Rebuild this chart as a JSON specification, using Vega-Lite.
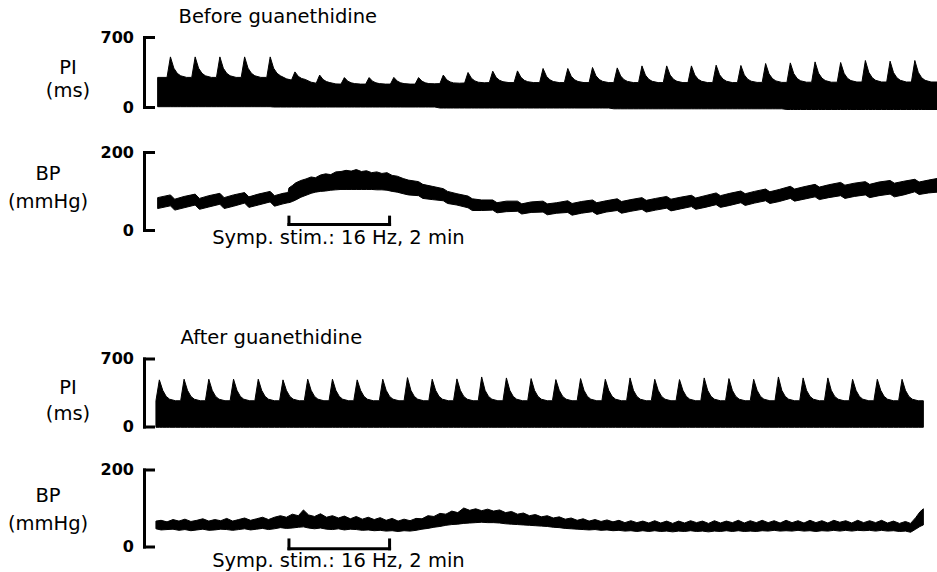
{
  "$schema": "https://vega.github.io/schema/vega-lite/v6.json",
  "background": "white",
  "padding": {"left": 7, "top": 6, "right": 0, "bottom": 0},
  "config": {
    "view": {"stroke": null},
    "font": "DejaVu Sans",
    "axis": {
      "grid": false,
      "domainColor": "black", "domainWidth": 3, "domainCap": "square",
      "tickColor": "black", "tickWidth": 3, "tickSize": -9, "tickCap": "square",
      "labelFont": "DejaVu Sans", "labelFontSize": 16, "labelFontWeight": "bold", "labelColor": "black", "labelPadding": 19.5, "labelFlush": false,
      "titleFont": "DejaVu Sans", "titleFontSize": 19.5, "titleFontWeight": "normal", "titleColor": "black",
      "titleAngle": 0, "titleAlign": "center", "titleBaseline": "middle"
    },
    "title": {"font": "DejaVu Sans", "fontSize": 19.5, "fontWeight": "normal", "color": "black", "anchor": "start", "frame": "group", "baseline": "alphabetic"}
  },
  "datasets": {
    "piBefore": [
      {"t":16,"hi":296,"lo":3},
      {"t":27,"hi":296,"lo":3},{"t":31,"hi":501,"lo":3},{"t":35,"hi":388,"lo":3},{"t":39,"hi":337,"lo":3},{"t":43,"hi":312,"lo":3},{"t":50,"hi":296,"lo":3},
      {"t":56,"hi":296,"lo":3},{"t":60,"hi":501,"lo":3},{"t":64,"hi":388,"lo":3},{"t":68,"hi":337,"lo":3},{"t":72,"hi":312,"lo":3},{"t":79,"hi":296,"lo":3},
      {"t":85,"hi":296,"lo":3},{"t":89,"hi":501,"lo":3},{"t":93,"hi":388,"lo":3},{"t":97,"hi":337,"lo":3},{"t":101,"hi":312,"lo":3},{"t":108,"hi":296,"lo":3},
      {"t":114,"hi":296,"lo":3},{"t":118,"hi":501,"lo":3},{"t":122,"hi":388,"lo":3},{"t":126,"hi":337,"lo":3},{"t":130,"hi":312,"lo":3},{"t":137,"hi":296,"lo":3},
      {"t":144,"hi":296,"lo":3},{"t":148,"hi":501,"lo":3},{"t":152,"hi":388,"lo":0},{"t":156,"hi":337,"lo":0},{"t":160,"hi":312,"lo":0},{"t":167,"hi":282,"lo":0},
      {"t":173,"hi":269,"lo":0},{"t":177,"hi":351,"lo":0},{"t":181,"hi":306,"lo":0},{"t":185,"hi":285,"lo":0},{"t":189,"hi":276,"lo":0},{"t":196,"hi":248,"lo":0},
      {"t":202,"hi":238,"lo":0},{"t":206,"hi":319,"lo":0},{"t":210,"hi":275,"lo":0},{"t":214,"hi":254,"lo":0},{"t":218,"hi":244,"lo":0},{"t":225,"hi":231,"lo":0},
      {"t":231,"hi":229,"lo":0},{"t":235,"hi":294,"lo":0},{"t":239,"hi":258,"lo":0},{"t":243,"hi":242,"lo":0},{"t":247,"hi":234,"lo":0},{"t":254,"hi":229,"lo":0},
      {"t":260,"hi":229,"lo":0},{"t":264,"hi":294,"lo":0},{"t":268,"hi":258,"lo":0},{"t":272,"hi":242,"lo":0},{"t":276,"hi":234,"lo":0},{"t":283,"hi":229,"lo":0},
      {"t":289,"hi":229,"lo":0},{"t":293,"hi":296,"lo":0},{"t":297,"hi":259,"lo":0},{"t":301,"hi":242,"lo":0},{"t":305,"hi":234,"lo":0},{"t":312,"hi":229,"lo":0},
      {"t":318,"hi":229,"lo":0},{"t":322,"hi":294,"lo":0},{"t":326,"hi":258,"lo":0},{"t":330,"hi":242,"lo":0},{"t":334,"hi":234,"lo":0},{"t":341,"hi":232,"lo":0},
      {"t":347,"hi":234,"lo":-10},{"t":351,"hi":319,"lo":-10},{"t":355,"hi":272,"lo":-10},{"t":359,"hi":251,"lo":-10},{"t":363,"hi":241,"lo":-10},{"t":370,"hi":238,"lo":-10},
      {"t":376,"hi":240,"lo":-10},{"t":380,"hi":345,"lo":-10},{"t":384,"hi":287,"lo":-10},{"t":388,"hi":261,"lo":-10},{"t":392,"hi":248,"lo":-10},{"t":399,"hi":242,"lo":-10},
      {"t":405,"hi":244,"lo":-10},{"t":409,"hi":358,"lo":-10},{"t":413,"hi":295,"lo":-10},{"t":417,"hi":267,"lo":-10},{"t":421,"hi":253,"lo":-10},{"t":428,"hi":244,"lo":-10},
      {"t":434,"hi":244,"lo":-10},{"t":438,"hi":361,"lo":-10},{"t":442,"hi":297,"lo":-10},{"t":446,"hi":267,"lo":-10},{"t":450,"hi":253,"lo":-10},{"t":457,"hi":244,"lo":-10},
      {"t":464,"hi":244,"lo":-10},{"t":468,"hi":385,"lo":-10},{"t":472,"hi":307,"lo":-10},{"t":476,"hi":272,"lo":-10},{"t":480,"hi":255,"lo":-10},{"t":487,"hi":244,"lo":-10},
      {"t":493,"hi":244,"lo":-10},{"t":497,"hi":385,"lo":-10},{"t":501,"hi":307,"lo":-10},{"t":505,"hi":272,"lo":-10},{"t":509,"hi":255,"lo":-10},{"t":516,"hi":244,"lo":-10},
      {"t":522,"hi":244,"lo":-10},{"t":526,"hi":395,"lo":-10},{"t":530,"hi":312,"lo":-10},{"t":534,"hi":274,"lo":-10},{"t":538,"hi":256,"lo":-10},{"t":545,"hi":244,"lo":-10},
      {"t":551,"hi":244,"lo":-18},{"t":555,"hi":391,"lo":-18},{"t":559,"hi":310,"lo":-18},{"t":563,"hi":273,"lo":-18},{"t":567,"hi":256,"lo":-18},{"t":574,"hi":244,"lo":-18},
      {"t":580,"hi":244,"lo":-18},{"t":584,"hi":411,"lo":-18},{"t":588,"hi":319,"lo":-18},{"t":592,"hi":277,"lo":-18},{"t":596,"hi":257,"lo":-18},{"t":603,"hi":244,"lo":-18},
      {"t":609,"hi":244,"lo":-18},{"t":613,"hi":411,"lo":-18},{"t":617,"hi":319,"lo":-18},{"t":621,"hi":277,"lo":-18},{"t":625,"hi":257,"lo":-18},{"t":632,"hi":244,"lo":-18},
      {"t":638,"hi":244,"lo":-18},{"t":642,"hi":411,"lo":-18},{"t":646,"hi":319,"lo":-18},{"t":650,"hi":277,"lo":-18},{"t":654,"hi":257,"lo":-18},{"t":661,"hi":244,"lo":-18},
      {"t":667,"hi":244,"lo":-18},{"t":671,"hi":418,"lo":-18},{"t":675,"hi":322,"lo":-18},{"t":679,"hi":279,"lo":-18},{"t":683,"hi":258,"lo":-18},{"t":690,"hi":244,"lo":-18},
      {"t":696,"hi":244,"lo":-18},{"t":700,"hi":415,"lo":-18},{"t":704,"hi":321,"lo":-18},{"t":708,"hi":278,"lo":-18},{"t":712,"hi":258,"lo":-18},{"t":719,"hi":246,"lo":-18},
      {"t":725,"hi":246,"lo":-18},{"t":729,"hi":435,"lo":-18},{"t":733,"hi":331,"lo":-18},{"t":737,"hi":284,"lo":-18},{"t":741,"hi":261,"lo":-18},{"t":748,"hi":246,"lo":-18},
      {"t":754,"hi":246,"lo":-25},{"t":758,"hi":441,"lo":-25},{"t":762,"hi":334,"lo":-25},{"t":766,"hi":285,"lo":-25},{"t":770,"hi":262,"lo":-25},{"t":777,"hi":248,"lo":-25},
      {"t":783,"hi":248,"lo":-25},{"t":787,"hi":451,"lo":-25},{"t":791,"hi":339,"lo":-25},{"t":795,"hi":289,"lo":-25},{"t":799,"hi":264,"lo":-25},{"t":806,"hi":248,"lo":-25},
      {"t":813,"hi":248,"lo":-25},{"t":817,"hi":445,"lo":-25},{"t":821,"hi":337,"lo":-25},{"t":825,"hi":287,"lo":-25},{"t":829,"hi":264,"lo":-25},{"t":836,"hi":250,"lo":-25},
      {"t":842,"hi":250,"lo":-25},{"t":846,"hi":465,"lo":-25},{"t":850,"hi":347,"lo":-25},{"t":854,"hi":293,"lo":-25},{"t":858,"hi":267,"lo":-25},{"t":865,"hi":250,"lo":-25},
      {"t":871,"hi":250,"lo":-25},{"t":875,"hi":458,"lo":-25},{"t":879,"hi":344,"lo":-25},{"t":883,"hi":292,"lo":-25},{"t":887,"hi":267,"lo":-25},{"t":894,"hi":250,"lo":-25},
      {"t":900,"hi":250,"lo":-25},{"t":904,"hi":465,"lo":-25},{"t":908,"hi":347,"lo":-25},{"t":912,"hi":293,"lo":-25},{"t":916,"hi":267,"lo":-25},{"t":923,"hi":250,"lo":-25},
      {"t":930,"hi":250,"lo":-25}
    ],
    "bpBefore": [
      {"t":16,"lo":55,"hi":83},{"t":31,"lo":62,"hi":90},{"t":36,"lo":51,"hi":79},{"t":47,"lo":57,"hi":86},{"t":60,"lo":64,"hi":92},{"t":65,"lo":53,"hi":81},{"t":76,"lo":59,"hi":88},
      {"t":89,"lo":66,"hi":94},{"t":94,"lo":55,"hi":83},{"t":105,"lo":61,"hi":90},{"t":118,"lo":69,"hi":96},{"t":123,"lo":58,"hi":85},{"t":134,"lo":64,"hi":92},
      {"t":148,"lo":72,"hi":99},{"t":153,"lo":61,"hi":88},{"t":163,"lo":67,"hi":94},{"t":169,"lo":70,"hi":96},{"t":170,"lo":70,"hi":108},{"t":174,"lo":73,"hi":114},
      {"t":178,"lo":77,"hi":121},{"t":184,"lo":84,"hi":127},{"t":190,"lo":89,"hi":131},{"t":196,"lo":94,"hi":136},{"t":201,"lo":97,"hi":134},{"t":207,"lo":99,"hi":141},
      {"t":213,"lo":100,"hi":144},{"t":219,"lo":102,"hi":142},{"t":225,"lo":103,"hi":149},{"t":231,"lo":104,"hi":150},{"t":237,"lo":104,"hi":153},{"t":243,"lo":104,"hi":151},
      {"t":249,"lo":104,"hi":155},{"t":255,"lo":104,"hi":150},{"t":261,"lo":104,"hi":152},{"t":267,"lo":104,"hi":147},{"t":273,"lo":103,"hi":149},{"t":279,"lo":103,"hi":145},
      {"t":285,"lo":102,"hi":147},{"t":291,"lo":99,"hi":140},{"t":297,"lo":97,"hi":138},{"t":304,"lo":93,"hi":132},{"t":310,"lo":90,"hi":128},{"t":322,"lo":88,"hi":124},
      {"t":327,"lo":81,"hi":117},{"t":338,"lo":78,"hi":112},{"t":351,"lo":75,"hi":106},{"t":356,"lo":68,"hi":99},{"t":367,"lo":64,"hi":93},{"t":380,"lo":57,"hi":87},
      {"t":385,"lo":50,"hi":80},{"t":396,"lo":50,"hi":77},{"t":409,"lo":51,"hi":77},{"t":414,"lo":44,"hi":70},{"t":425,"lo":47,"hi":74},{"t":438,"lo":48,"hi":74},
      {"t":443,"lo":41,"hi":67},{"t":454,"lo":45,"hi":72},{"t":468,"lo":46,"hi":74},{"t":473,"lo":39,"hi":67},{"t":484,"lo":43,"hi":70},{"t":497,"lo":45,"hi":75},
      {"t":502,"lo":38,"hi":68},{"t":513,"lo":43,"hi":73},{"t":526,"lo":47,"hi":77},{"t":531,"lo":40,"hi":70},{"t":542,"lo":46,"hi":75},{"t":555,"lo":50,"hi":80},
      {"t":560,"lo":43,"hi":73},{"t":571,"lo":48,"hi":78},{"t":584,"lo":53,"hi":83},{"t":589,"lo":46,"hi":76},{"t":600,"lo":51,"hi":81},{"t":613,"lo":56,"hi":86},
      {"t":618,"lo":49,"hi":79},{"t":629,"lo":54,"hi":84},{"t":642,"lo":60,"hi":89},{"t":647,"lo":53,"hi":82},{"t":658,"lo":58,"hi":88},{"t":671,"lo":65,"hi":95},
      {"t":676,"lo":58,"hi":88},{"t":687,"lo":63,"hi":94},{"t":700,"lo":70,"hi":100},{"t":705,"lo":63,"hi":93},{"t":716,"lo":69,"hi":99},{"t":729,"lo":75,"hi":105},
      {"t":734,"lo":68,"hi":98},{"t":745,"lo":73,"hi":104},{"t":758,"lo":81,"hi":112},{"t":763,"lo":74,"hi":105},{"t":774,"lo":79,"hi":111},{"t":787,"lo":85,"hi":117},
      {"t":792,"lo":78,"hi":110},{"t":803,"lo":83,"hi":116},{"t":817,"lo":88,"hi":122},{"t":822,"lo":81,"hi":115},{"t":833,"lo":86,"hi":120},{"t":846,"lo":90,"hi":124},
      {"t":851,"lo":83,"hi":117},{"t":862,"lo":88,"hi":123},{"t":875,"lo":92,"hi":127},{"t":880,"lo":85,"hi":120},{"t":891,"lo":90,"hi":125},{"t":904,"lo":98,"hi":130},
      {"t":909,"lo":91,"hi":123},{"t":920,"lo":95,"hi":128},{"t":930,"lo":97,"hi":132}
    ],
    "piAfter": [
      {"t":14,"hi":265,"lo":-8},{"t":18,"hi":480,"lo":-8},{"t":22,"hi":372,"lo":-8},{"t":26,"hi":310,"lo":-8},{"t":30,"hi":281,"lo":-8},{"t":37,"hi":265,"lo":-8},
      {"t":43,"hi":265,"lo":-8},{"t":47,"hi":487,"lo":-8},{"t":51,"hi":372,"lo":-8},{"t":55,"hi":310,"lo":-8},{"t":59,"hi":281,"lo":-8},{"t":66,"hi":265,"lo":-8},
      {"t":72,"hi":265,"lo":-8},{"t":76,"hi":487,"lo":-8},{"t":80,"hi":372,"lo":-8},{"t":84,"hi":310,"lo":-8},{"t":88,"hi":281,"lo":-8},{"t":95,"hi":265,"lo":-8},
      {"t":101,"hi":265,"lo":-8},{"t":105,"hi":487,"lo":-8},{"t":109,"hi":372,"lo":-8},{"t":113,"hi":310,"lo":-8},{"t":117,"hi":281,"lo":-8},{"t":124,"hi":265,"lo":-8},
      {"t":130,"hi":265,"lo":-8},{"t":134,"hi":487,"lo":-8},{"t":138,"hi":372,"lo":-8},{"t":142,"hi":310,"lo":-8},{"t":146,"hi":281,"lo":-8},{"t":153,"hi":265,"lo":-8},
      {"t":159,"hi":265,"lo":-8},{"t":163,"hi":480,"lo":-8},{"t":167,"hi":372,"lo":-8},{"t":171,"hi":310,"lo":-8},{"t":175,"hi":281,"lo":-8},{"t":182,"hi":265,"lo":-8},
      {"t":188,"hi":265,"lo":-8},{"t":192,"hi":487,"lo":-8},{"t":196,"hi":372,"lo":-8},{"t":200,"hi":310,"lo":-8},{"t":204,"hi":281,"lo":-8},{"t":211,"hi":265,"lo":-8},
      {"t":217,"hi":265,"lo":-8},{"t":221,"hi":487,"lo":-8},{"t":225,"hi":372,"lo":-8},{"t":229,"hi":310,"lo":-8},{"t":233,"hi":281,"lo":-8},{"t":240,"hi":265,"lo":-8},
      {"t":246,"hi":265,"lo":-8},{"t":250,"hi":480,"lo":-8},{"t":254,"hi":372,"lo":-8},{"t":258,"hi":310,"lo":-8},{"t":262,"hi":281,"lo":-8},{"t":269,"hi":265,"lo":-8},
      {"t":276,"hi":265,"lo":-8},{"t":280,"hi":487,"lo":-8},{"t":284,"hi":372,"lo":-8},{"t":288,"hi":310,"lo":-8},{"t":292,"hi":281,"lo":-8},{"t":299,"hi":265,"lo":-8},
      {"t":305,"hi":265,"lo":-8},{"t":309,"hi":503,"lo":-8},{"t":313,"hi":372,"lo":-8},{"t":317,"hi":310,"lo":-8},{"t":321,"hi":281,"lo":-8},{"t":328,"hi":265,"lo":-8},
      {"t":334,"hi":265,"lo":-8},{"t":338,"hi":487,"lo":-8},{"t":342,"hi":372,"lo":-8},{"t":346,"hi":310,"lo":-8},{"t":350,"hi":281,"lo":-8},{"t":357,"hi":265,"lo":-8},
      {"t":363,"hi":265,"lo":-8},{"t":367,"hi":490,"lo":-8},{"t":371,"hi":372,"lo":-8},{"t":375,"hi":310,"lo":-8},{"t":379,"hi":281,"lo":-8},{"t":386,"hi":265,"lo":-8},
      {"t":392,"hi":265,"lo":-8},{"t":396,"hi":510,"lo":-8},{"t":400,"hi":372,"lo":-8},{"t":404,"hi":310,"lo":-8},{"t":408,"hi":281,"lo":-8},{"t":415,"hi":265,"lo":-8},
      {"t":421,"hi":265,"lo":-8},{"t":425,"hi":500,"lo":-8},{"t":429,"hi":372,"lo":-8},{"t":433,"hi":310,"lo":-8},{"t":437,"hi":281,"lo":-8},{"t":444,"hi":265,"lo":-8},
      {"t":450,"hi":265,"lo":-8},{"t":454,"hi":493,"lo":-8},{"t":458,"hi":372,"lo":-8},{"t":462,"hi":310,"lo":-8},{"t":466,"hi":281,"lo":-8},{"t":473,"hi":265,"lo":-8},
      {"t":479,"hi":265,"lo":-8},{"t":483,"hi":483,"lo":-8},{"t":487,"hi":372,"lo":-8},{"t":491,"hi":310,"lo":-8},{"t":495,"hi":281,"lo":-8},{"t":502,"hi":265,"lo":-8},
      {"t":508,"hi":265,"lo":-8},{"t":512,"hi":493,"lo":-8},{"t":516,"hi":372,"lo":-8},{"t":520,"hi":310,"lo":-8},{"t":524,"hi":281,"lo":-8},{"t":531,"hi":265,"lo":-8},
      {"t":537,"hi":265,"lo":-8},{"t":541,"hi":486,"lo":-8},{"t":545,"hi":372,"lo":-8},{"t":549,"hi":310,"lo":-8},{"t":553,"hi":281,"lo":-8},{"t":560,"hi":265,"lo":-8},
      {"t":566,"hi":265,"lo":-8},{"t":570,"hi":500,"lo":-8},{"t":574,"hi":372,"lo":-8},{"t":578,"hi":310,"lo":-8},{"t":582,"hi":281,"lo":-8},{"t":589,"hi":265,"lo":-8},
      {"t":595,"hi":265,"lo":-8},{"t":599,"hi":486,"lo":-8},{"t":603,"hi":372,"lo":-8},{"t":607,"hi":310,"lo":-8},{"t":611,"hi":281,"lo":-8},{"t":618,"hi":265,"lo":-8},
      {"t":624,"hi":265,"lo":-8},{"t":628,"hi":483,"lo":-8},{"t":632,"hi":372,"lo":-8},{"t":636,"hi":310,"lo":-8},{"t":640,"hi":281,"lo":-8},{"t":647,"hi":265,"lo":-8},
      {"t":653,"hi":265,"lo":-8},{"t":657,"hi":500,"lo":-8},{"t":661,"hi":372,"lo":-8},{"t":665,"hi":310,"lo":-8},{"t":669,"hi":281,"lo":-8},{"t":676,"hi":265,"lo":-8},
      {"t":682,"hi":265,"lo":-8},{"t":686,"hi":493,"lo":-8},{"t":690,"hi":372,"lo":-8},{"t":694,"hi":310,"lo":-8},{"t":698,"hi":281,"lo":-8},{"t":705,"hi":265,"lo":-8},
      {"t":711,"hi":265,"lo":-8},{"t":715,"hi":486,"lo":-8},{"t":719,"hi":372,"lo":-8},{"t":723,"hi":310,"lo":-8},{"t":727,"hi":281,"lo":-8},{"t":734,"hi":265,"lo":-8},
      {"t":740,"hi":265,"lo":-8},{"t":744,"hi":510,"lo":-8},{"t":748,"hi":372,"lo":-8},{"t":752,"hi":310,"lo":-8},{"t":756,"hi":281,"lo":-8},{"t":763,"hi":265,"lo":-8},
      {"t":769,"hi":265,"lo":-8},{"t":773,"hi":500,"lo":-8},{"t":777,"hi":372,"lo":-8},{"t":781,"hi":310,"lo":-8},{"t":785,"hi":281,"lo":-8},{"t":792,"hi":265,"lo":-8},
      {"t":798,"hi":265,"lo":-8},{"t":802,"hi":500,"lo":-8},{"t":806,"hi":372,"lo":-8},{"t":810,"hi":310,"lo":-8},{"t":814,"hi":281,"lo":-8},{"t":821,"hi":265,"lo":-8},
      {"t":827,"hi":265,"lo":-8},{"t":831,"hi":486,"lo":-8},{"t":835,"hi":372,"lo":-8},{"t":839,"hi":310,"lo":-8},{"t":843,"hi":281,"lo":-8},{"t":850,"hi":265,"lo":-8},
      {"t":856,"hi":265,"lo":-8},{"t":860,"hi":486,"lo":-8},{"t":864,"hi":372,"lo":-8},{"t":868,"hi":310,"lo":-8},{"t":872,"hi":281,"lo":-8},{"t":879,"hi":265,"lo":-8},
      {"t":885,"hi":265,"lo":-8},{"t":889,"hi":486,"lo":-8},{"t":893,"hi":372,"lo":-8},{"t":897,"hi":310,"lo":-8},{"t":901,"hi":281,"lo":-8},{"t":908,"hi":265,"lo":-8},
      {"t":914,"hi":265,"lo":-8}
    ],
    "bpAfter": [
      {"t":14,"lo":46,"hi":66},{"t":20,"lo":43,"hi":68},{"t":27,"lo":44,"hi":64},{"t":34,"lo":45,"hi":70},{"t":41,"lo":42,"hi":66},{"t":48,"lo":44,"hi":71},
      {"t":55,"lo":41,"hi":65},{"t":62,"lo":43,"hi":68},{"t":69,"lo":45,"hi":72},{"t":76,"lo":42,"hi":66},{"t":83,"lo":43,"hi":70},{"t":90,"lo":45,"hi":67},
      {"t":97,"lo":44,"hi":73},{"t":104,"lo":42,"hi":66},{"t":111,"lo":44,"hi":70},{"t":118,"lo":46,"hi":74},{"t":125,"lo":43,"hi":68},{"t":132,"lo":45,"hi":72},
      {"t":139,"lo":47,"hi":76},{"t":146,"lo":44,"hi":70},{"t":153,"lo":46,"hi":76},{"t":160,"lo":49,"hi":80},{"t":167,"lo":47,"hi":76},{"t":174,"lo":48,"hi":84},
      {"t":181,"lo":50,"hi":80},{"t":187,"lo":51,"hi":95},{"t":193,"lo":48,"hi":82},{"t":200,"lo":46,"hi":78},{"t":207,"lo":48,"hi":85},{"t":214,"lo":45,"hi":76},
      {"t":221,"lo":44,"hi":80},{"t":228,"lo":46,"hi":74},{"t":235,"lo":43,"hi":79},{"t":242,"lo":45,"hi":72},{"t":249,"lo":44,"hi":78},{"t":256,"lo":42,"hi":71},
      {"t":263,"lo":43,"hi":76},{"t":270,"lo":41,"hi":70},{"t":277,"lo":42,"hi":75},{"t":284,"lo":40,"hi":68},{"t":291,"lo":41,"hi":73},{"t":298,"lo":39,"hi":66},
      {"t":305,"lo":41,"hi":71},{"t":312,"lo":40,"hi":67},{"t":319,"lo":42,"hi":73},{"t":326,"lo":45,"hi":72},{"t":333,"lo":47,"hi":80},{"t":340,"lo":50,"hi":78},
      {"t":347,"lo":52,"hi":86},{"t":354,"lo":55,"hi":84},{"t":361,"lo":57,"hi":92},{"t":368,"lo":58,"hi":88},{"t":375,"lo":60,"hi":100},{"t":382,"lo":61,"hi":94},
      {"t":389,"lo":62,"hi":98},{"t":396,"lo":63,"hi":93},{"t":403,"lo":62,"hi":97},{"t":410,"lo":62,"hi":92},{"t":417,"lo":61,"hi":95},{"t":424,"lo":59,"hi":88},
      {"t":431,"lo":58,"hi":91},{"t":438,"lo":57,"hi":84},{"t":445,"lo":56,"hi":87},{"t":452,"lo":55,"hi":80},{"t":459,"lo":54,"hi":83},{"t":466,"lo":53,"hi":77},
      {"t":473,"lo":52,"hi":80},{"t":480,"lo":50,"hi":74},{"t":487,"lo":49,"hi":77},{"t":494,"lo":47,"hi":71},{"t":501,"lo":46,"hi":74},{"t":508,"lo":45,"hi":68},
      {"t":515,"lo":44,"hi":72},{"t":522,"lo":43,"hi":66},{"t":529,"lo":44,"hi":70},{"t":536,"lo":42,"hi":65},{"t":543,"lo":43,"hi":69},{"t":550,"lo":41,"hi":64},
      {"t":557,"lo":42,"hi":68},{"t":564,"lo":40,"hi":62},{"t":571,"lo":41,"hi":67},{"t":578,"lo":39,"hi":62},{"t":585,"lo":41,"hi":66},{"t":592,"lo":39,"hi":61},
      {"t":599,"lo":41,"hi":67},{"t":606,"lo":39,"hi":61},{"t":613,"lo":40,"hi":66},{"t":620,"lo":38,"hi":60},{"t":627,"lo":40,"hi":66},{"t":634,"lo":39,"hi":61},
      {"t":641,"lo":41,"hi":67},{"t":648,"lo":39,"hi":62},{"t":655,"lo":40,"hi":66},{"t":662,"lo":38,"hi":60},{"t":669,"lo":40,"hi":67},{"t":676,"lo":39,"hi":61},
      {"t":683,"lo":41,"hi":66},{"t":690,"lo":39,"hi":62},{"t":697,"lo":41,"hi":68},{"t":704,"lo":39,"hi":61},{"t":711,"lo":40,"hi":67},{"t":718,"lo":39,"hi":62},
      {"t":725,"lo":41,"hi":68},{"t":732,"lo":40,"hi":62},{"t":739,"lo":42,"hi":67},{"t":746,"lo":40,"hi":61},{"t":753,"lo":41,"hi":68},{"t":760,"lo":40,"hi":62},
      {"t":767,"lo":42,"hi":67},{"t":774,"lo":40,"hi":61},{"t":781,"lo":41,"hi":68},{"t":788,"lo":39,"hi":62},{"t":795,"lo":41,"hi":67},{"t":802,"lo":40,"hi":61},
      {"t":809,"lo":42,"hi":68},{"t":816,"lo":40,"hi":63},{"t":823,"lo":42,"hi":67},{"t":830,"lo":40,"hi":61},{"t":837,"lo":42,"hi":68},{"t":844,"lo":41,"hi":62},
      {"t":851,"lo":42,"hi":67},{"t":858,"lo":40,"hi":62},{"t":865,"lo":42,"hi":68},{"t":872,"lo":40,"hi":61},{"t":879,"lo":41,"hi":66},{"t":886,"lo":39,"hi":60},
      {"t":893,"lo":40,"hi":65},{"t":899,"lo":37,"hi":60},{"t":905,"lo":45,"hi":75},{"t":910,"lo":52,"hi":90},{"t":914,"lo":56,"hi":98}
    ],
    "stim": [{"start": 170, "end": 288, "label": "Symp. stim.: 16 Hz, 2 min"}]
  },
  "spacing": 79.5,
  "vconcat": [
    {
      "bounds": "flush",
      "spacing": 45,
      "vconcat": [
        {
          "width": 793, "height": 70,
          "title": {"text": "Before guanethidine", "dx": 34.5, "offset": 2},
          "data": {"name": "piBefore"},
          "mark": {"type": "area", "color": "black", "stroke": "black", "strokeWidth": 1},
          "encoding": {
            "x": {"field": "t", "type": "quantitative", "scale": {"domain": [0, 930], "nice": false, "zero": false}, "axis": null},
            "y": {"field": "hi", "type": "quantitative", "scale": {"domain": [0, 700], "nice": false, "zero": false},
                  "axis": {"values": [0, 700], "title": ["PI", "(ms)"], "titleX": -76.5, "titleY": 30.5, "titleLineHeight": 23}},
            "y2": {"field": "lo"}
          }
        },
        {
          "width": 793, "height": 78,
          "layer": [
            {
              "data": {"name": "bpBefore"},
              "mark": {"type": "area", "color": "black", "stroke": "black", "strokeWidth": 1},
              "encoding": {
                "x": {"field": "t", "type": "quantitative", "scale": {"domain": [0, 930], "nice": false, "zero": false}, "axis": null},
                "y": {"field": "hi", "type": "quantitative", "scale": {"domain": [0, 200], "nice": false, "zero": false},
                      "axis": {"values": [0, 200], "title": ["BP", "(mmHg)"], "titleX": -96.5, "titleY": 21.6, "titleLineHeight": 28.4}},
                "y2": {"field": "lo"}
              }
            },
            {
              "data": {"name": "stim"},
              "mark": {"type": "rule", "color": "black", "strokeWidth": 3, "strokeCap": "square"},
              "encoding": {"x": {"field": "start", "type": "quantitative"}, "x2": {"field": "end"}, "y": {"datum": 14}}
            },
            {
              "data": {"name": "stim"},
              "mark": {"type": "rule", "color": "black", "strokeWidth": 3, "strokeCap": "square"},
              "encoding": {"x": {"field": "start", "type": "quantitative"}, "y": {"datum": 14}, "y2": {"datum": 33}}
            },
            {
              "data": {"name": "stim"},
              "mark": {"type": "rule", "color": "black", "strokeWidth": 3, "strokeCap": "square"},
              "encoding": {"x": {"field": "end", "type": "quantitative"}, "y": {"datum": 14}, "y2": {"datum": 33}}
            },
            {
              "data": {"name": "stim"},
              "mark": {"type": "text", "color": "black", "fontSize": 19.5, "align": "center", "baseline": "alphabetic", "dx": 49.5},
              "encoding": {"x": {"field": "start", "type": "quantitative"}, "y": {"datum": -36}, "text": {"field": "label"}}
            }
          ]
        }
      ]
    },
    {
      "bounds": "flush",
      "spacing": 43,
      "vconcat": [
        {
          "width": 793, "height": 68,
          "title": {"text": "After guanethidine", "dx": 36.5, "offset": 2},
          "data": {"name": "piAfter"},
          "mark": {"type": "area", "color": "black", "stroke": "black", "strokeWidth": 1},
          "encoding": {
            "x": {"field": "t", "type": "quantitative", "scale": {"domain": [0, 930], "nice": false, "zero": false}, "axis": null},
            "y": {"field": "hi", "type": "quantitative", "scale": {"domain": [0, 700], "nice": false, "zero": false},
                  "axis": {"values": [0, 700], "title": ["PI", "(ms)"], "titleX": -76.5, "titleY": 29, "titleLineHeight": 26}},
            "y2": {"field": "lo"}
          }
        },
        {
          "width": 793, "height": 77,
          "layer": [
            {
              "data": {"name": "bpAfter"},
              "mark": {"type": "area", "color": "black", "stroke": "black", "strokeWidth": 1},
              "encoding": {
                "x": {"field": "t", "type": "quantitative", "scale": {"domain": [0, 930], "nice": false, "zero": false}, "axis": null},
                "y": {"field": "hi", "type": "quantitative", "scale": {"domain": [0, 200], "nice": false, "zero": false},
                      "axis": {"values": [0, 200], "title": ["BP", "(mmHg)"], "titleX": -96.5, "titleY": 26.3, "titleLineHeight": 27.5}},
                "y2": {"field": "lo"}
              }
            },
            {
              "data": {"name": "stim"},
              "mark": {"type": "rule", "color": "black", "strokeWidth": 3, "strokeCap": "square"},
              "encoding": {"x": {"field": "start", "type": "quantitative"}, "x2": {"field": "end"}, "y": {"datum": -6}}
            },
            {
              "data": {"name": "stim"},
              "mark": {"type": "rule", "color": "black", "strokeWidth": 3, "strokeCap": "square"},
              "encoding": {"x": {"field": "start", "type": "quantitative"}, "y": {"datum": -6}, "y2": {"datum": 17}}
            },
            {
              "data": {"name": "stim"},
              "mark": {"type": "rule", "color": "black", "strokeWidth": 3, "strokeCap": "square"},
              "encoding": {"x": {"field": "end", "type": "quantitative"}, "y": {"datum": -6}, "y2": {"datum": 17}}
            },
            {
              "data": {"name": "stim"},
              "mark": {"type": "text", "color": "black", "fontSize": 19.5, "align": "center", "baseline": "alphabetic", "dx": 49.5},
              "encoding": {"x": {"field": "start", "type": "quantitative"}, "y": {"datum": -54}, "text": {"field": "label"}}
            }
          ]
        }
      ]
    }
  ]
}
